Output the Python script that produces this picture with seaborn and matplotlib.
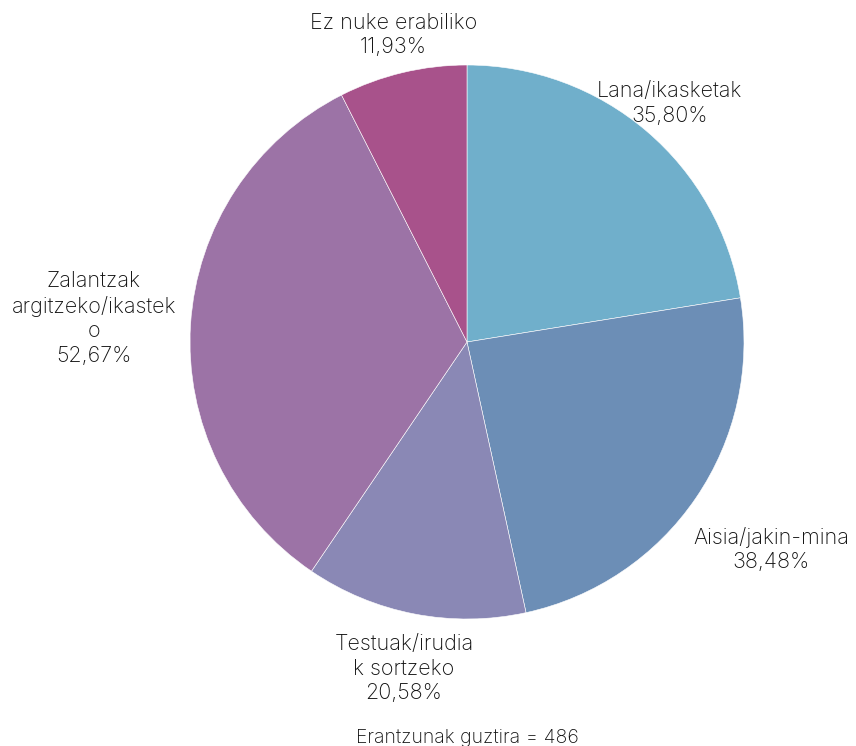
import matplotlib
matplotlib.use("Agg")
import matplotlib.pyplot as plt
import seaborn as sns
import numpy as np

categories = ["Lana/ikasketak", "Aisia/jakin-mina", "Testuak/irudiak sortzeko",
              "Zalantzak argitzeko/ikasteko", "Ez nuke erabiliko"]
label_texts = ["Lana/ikasketak", "Aisia/jakin-mina", "Testuak/irudia\nk sortzeko",
               "Zalantzak\nargitzeko/ikastek\no", "Ez nuke erabiliko"]
values = [35.80, 38.48, 20.58, 52.67, 11.93]
pct_labels = ["35,80%", "38,48%", "20,58%", "52,67%", "11,93%"]
total_text = "Erantzunak guztira = 486"

colors = ["#70AFCB", "#6C8EB6", "#8A88B5", "#9C73A6", "#A8528B"]
label_dist = [1.13, 1.33, 1.20, 1.35, 1.14]

sns.set_theme(style="white")
plt.rcParams['font.family'] = ['Inter', 'DejaVu Sans']

fig = plt.figure(figsize=(8.56, 7.46), dpi=100)
W, H = 856, 746
cx, cy, r = 467, 342, 277
ax = fig.add_axes([(cx - r) / W, (H - cy - r) / H, 2 * r / W, 2 * r / H])
ax.axis("off")

wedges, _ = ax.pie(values, colors=colors, startangle=90, counterclock=False,
                   radius=1, wedgeprops=dict(edgecolor="white", linewidth=0.4))
ax.set_xlim(-1, 1)
ax.set_ylim(-1, 1)
ax.set_aspect("equal")

for w, lab, pct, d in zip(wedges, label_texts, pct_labels, label_dist):
    mid = np.deg2rad((w.theta1 + w.theta2) / 2)
    x, y = d * np.cos(mid), d * np.sin(mid)
    ax.text(x, y, lab + "\n" + pct, ha="center", va="center",
            fontsize=15.5, fontweight="light", color="#111111",
            linespacing=1.28, clip_on=False)

fig.text(467 / W, 1 - 738 / H, total_text, ha="center", va="center",
         fontsize=14, fontweight="light", color="#111111")

fig.savefig("out.png", dpi=100)
